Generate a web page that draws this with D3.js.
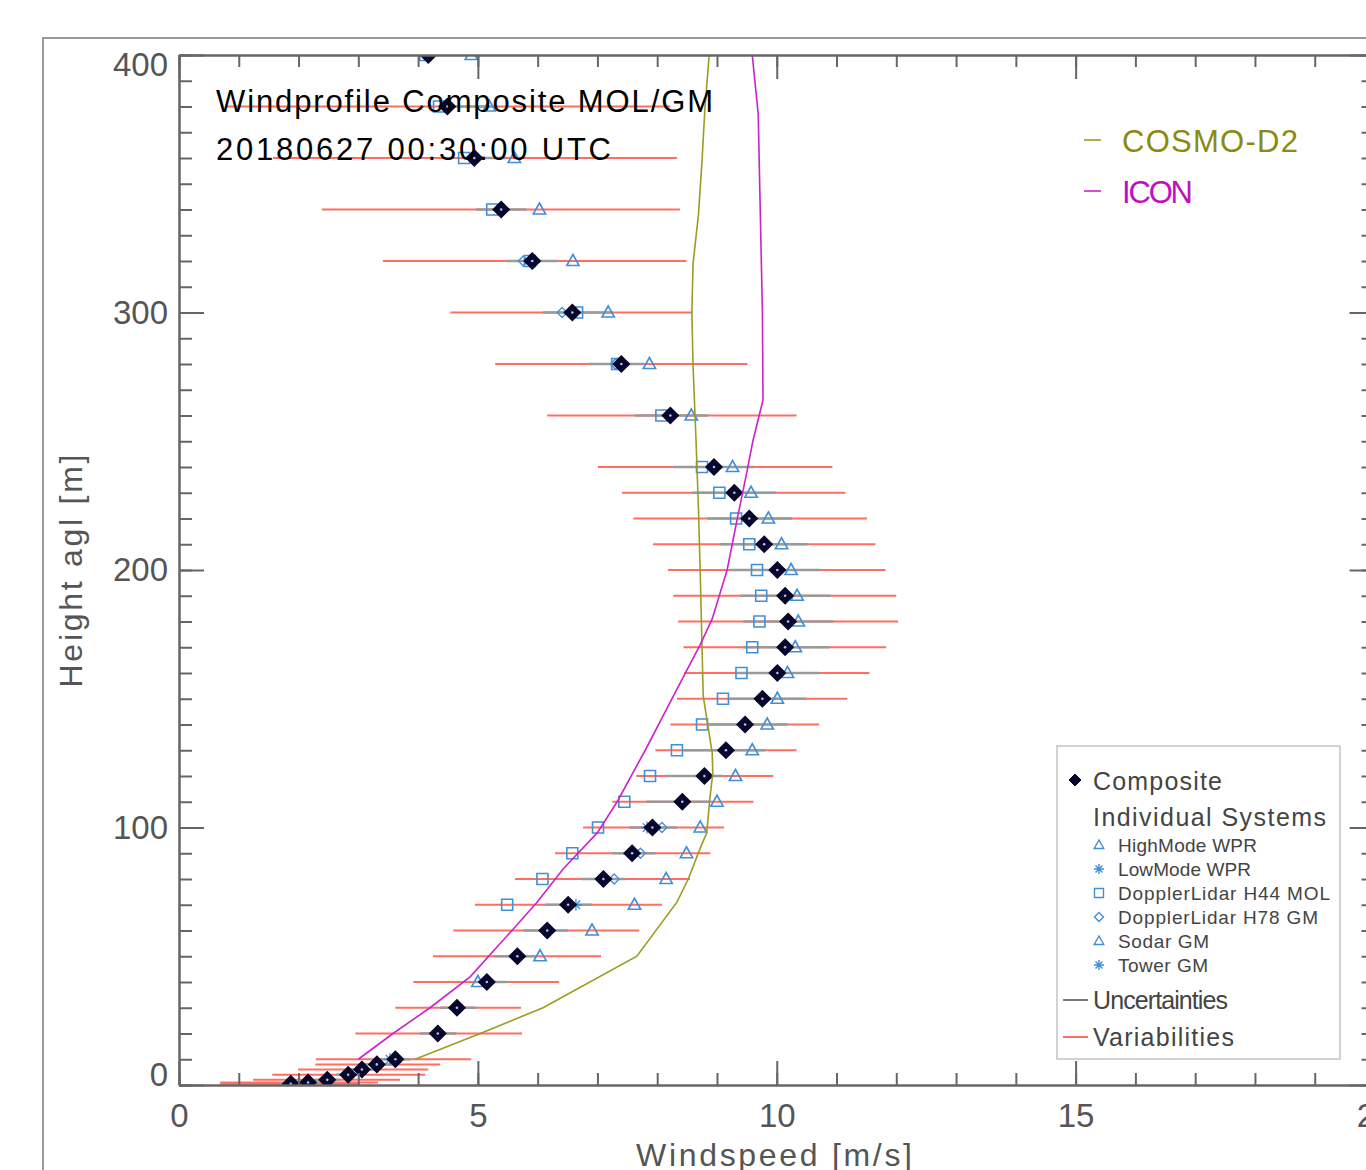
<!DOCTYPE html>
<html>
<head>
<meta charset="utf-8">
<script src="https://cdn.jsdelivr.net/npm/d3@7"></script>
<style>
  body { margin: 0; background: #fff; }
  text { font-family: "Liberation Sans", Arial, sans-serif; }
</style>
</head>
<body>
<div id="chart"></div>
<script>
// composite levels (m agl) and wind speeds (m/s)
var heights   = [400,380,360,340,320,300,280,260,240,230,220,210,200,190,180,170,160,150,140,130,120,110,100,90,80,70,60,50,40,30,20,10,8,6,4,2,1,0.5];
var composite = [4.17,4.49,4.94,5.39,5.91,6.58,7.40,8.22,8.95,9.29,9.54,9.79,10.01,10.14,10.19,10.14,10.01,9.76,9.47,9.15,8.79,8.42,7.92,7.58,7.10,6.51,6.16,5.66,5.15,4.65,4.33,3.62,3.31,3.06,2.83,2.48,2.16,1.87];
var uncLo = [null,4.33,4.77,4.97,5.47,6.09,6.86,7.63,8.27,8.59,8.84,9.05,9.22,9.39,9.44,9.44,9.34,9.22,8.84,8.44,8.13,7.82,7.53,7.25,6.73,6.13,5.76,5.26,4.92,4.37,4.03,3.36,3.11,2.86,2.63,2.28,1.96,1.69];
var uncHi = [null,5.24,5.47,5.81,6.34,7.26,7.77,8.85,9.62,9.99,10.26,10.51,10.73,10.90,10.95,10.88,10.71,10.49,10.18,9.81,9.09,8.89,8.33,7.97,7.46,6.91,6.51,5.96,5.49,4.97,4.64,3.87,3.56,3.28,3.03,2.69,2.36,2.06];
var varLo = [null,0.77,1.57,2.39,3.41,4.54,5.29,6.16,7.01,7.41,7.60,7.93,8.18,8.27,8.35,8.44,8.45,8.33,8.22,7.97,7.65,7.25,6.76,6.29,5.62,4.95,4.59,4.25,3.92,3.62,2.95,2.29,2.28,1.99,1.56,1.24,0.69,0.69];
var varHi = [null,8.22,8.33,8.38,8.49,8.59,9.51,10.33,10.93,11.15,11.51,11.65,11.82,12.00,12.03,11.83,11.55,11.18,10.71,10.33,9.94,9.61,9.12,8.89,8.55,8.08,7.70,7.06,6.36,5.72,5.74,4.89,4.37,4.17,4.12,3.70,3.33,3.03];

// individual systems
var lidarH44 = [4.12,4.35,4.77,5.24,5.87,6.66,7.33,8.07,8.75,9.04,9.32,9.54,9.67,9.74,9.71,9.59,9.41,9.10,8.75,8.33,7.88,7.45,7.01,6.58,6.08,5.49,null,null,null,null,null,null,null,null,null,null,null,null];
var lidarH78 = [null,null,null,null,5.76,6.41,7.30,null,null,null,null,null,null,null,null,null,null,null,null,null,null,null,8.08,7.72,7.28,null,null,null,null,null,null,null,null,null,null,null,null,null];
var wprHigh  = [4.89,5.19,5.61,6.03,6.59,7.18,7.87,8.57,9.26,9.57,9.86,10.08,10.24,10.34,10.36,10.31,10.18,10.01,9.84,9.59,9.31,9.00,8.72,8.49,8.15,7.62,null,null,null,null,null,null,null,null,null,null,null,null];
var sodar    = [null,null,null,null,null,null,null,null,null,null,null,null,null,null,null,null,null,null,null,null,null,null,null,null,null,null,6.91,6.04,5.00,null,null,null,null,null,null,null,null,null];
var tower    = [null,null,null,null,null,null,null,null,null,null,null,null,null,null,null,null,null,null,null,null,null,null,7.83,null,null,6.64,null,null,null,null,null,3.53,null,null,null,null,null,null];

// model profiles
var cosmoH = [10,20,30,50,71,80,92,98,111,121,129,151,170,199,224,250,279,300,319,338,359,380,400];
var cosmoV = [3.95,5.04,6.09,7.66,8.33,8.52,8.72,8.83,8.88,8.93,8.92,8.77,8.75,8.72,8.69,8.65,8.60,8.58,8.60,8.69,8.75,8.80,8.87];
var iconH  = [10,20,30,42,60,71,84,98,110,130,151,171,181,200,220,238,250,266,300,344,377,400];
var iconV  = [3.00,3.58,4.20,4.87,5.57,5.99,6.43,7.00,7.33,7.80,8.27,8.72,8.92,9.17,9.34,9.50,9.60,9.77,9.76,9.72,9.69,9.59];

var xMajor = [0,5,10,15,20];
var yMajor = [0,100,200,300,400];

var width = 1366, height = 1170;
var axisColor = "#666", labelColor = "#555";
var red = "#ff6e5e", grey = "#9a9a9a", blue = "#3f8fd9", navy = "#07072e";
var olive = "#9c9c22", magenta = "#cc22cc";

var svg = d3.select("#chart")
    .append("svg")
    .attr("width", width)
    .attr("height", height);

// outer frame
svg.append("rect")
    .attr("x", 43).attr("y", 38)
    .attr("width", 1400).attr("height", 1200)
    .attr("fill", "none")
    .attr("stroke", "#999")
    .attr("stroke-width", 2);

var x = d3.scaleLinear().domain([0, 20]).range([179, 1374.5]);
var y = d3.scaleLinear().domain([0, 400]).range([1085, 55]);

svg.append("clipPath").attr("id", "plotclip")
    .append("rect")
    .attr("x", 179).attr("y", 55)
    .attr("width", 1196).attr("height", 1030);

var plot = svg.append("g").attr("clip-path", "url(#plotclip)");

var rows = heights.map(function(h, i) {
    return {h: h, c: composite[i], uLo: uncLo[i], uHi: uncHi[i], vLo: varLo[i], vHi: varHi[i],
            h44: lidarH44[i], h78: lidarH78[i], wpr: wprHigh[i], sod: sodar[i], tow: tower[i]};
});

// variabilities
plot.selectAll("line.var")
    .data(rows.filter(function(d){ return d.vLo != null; }))
    .enter().append("line")
    .attr("class", "var")
    .attr("x1", function(d){ return x(d.vLo); })
    .attr("x2", function(d){ return x(d.vHi); })
    .attr("y1", function(d){ return y(d.h); })
    .attr("y2", function(d){ return y(d.h); })
    .attr("stroke", red)
    .attr("stroke-width", 2);

// uncertainties
plot.selectAll("line.unc")
    .data(rows.filter(function(d){ return d.uLo != null; }))
    .enter().append("line")
    .attr("class", "unc")
    .attr("x1", function(d){ return x(d.uLo); })
    .attr("x2", function(d){ return x(d.uHi); })
    .attr("y1", function(d){ return y(d.h); })
    .attr("y2", function(d){ return y(d.h); })
    .attr("stroke", grey)
    .attr("stroke-width", 2.5);

// symbol shapes
function triPath(r) { return "M0," + (-r) + "L" + (r*0.95) + "," + (r*0.7) + "L" + (-r*0.95) + "," + (r*0.7) + "Z"; }
function sqPath(r) { return "M" + (-r) + "," + (-r) + "H" + r + "V" + r + "H" + (-r) + "Z"; }
function dmPath(r) { return "M0," + (-r) + "L" + r + ",0L0," + r + "L" + (-r) + ",0Z"; }
function starPath(r) {
    var s = r * 0.7;
    return "M" + (-r) + ",0H" + r + "M0," + (-r) + "V" + r + "M" + (-s) + "," + (-s) + "L" + s + "," + s + "M" + (-s) + "," + s + "L" + s + "," + (-s);
}

function addSymbols(key, path, sw) {
    plot.selectAll("path.s_" + key)
        .data(rows.filter(function(d){ return d[key] != null; }))
        .enter().append("path")
        .attr("class", "s_" + key)
        .attr("d", path)
        .attr("transform", function(d){ return "translate(" + x(d[key]) + "," + y(d.h) + ")"; })
        .attr("fill", "none")
        .attr("stroke", blue)
        .attr("stroke-width", sw);
}
addSymbols("h44", sqPath(5.5), 1.6);
addSymbols("h78", dmPath(5), 1.3);
addSymbols("wpr", triPath(6.5), 1.6);
addSymbols("sod", triPath(6.5), 1.6);
addSymbols("tow", starPath(6), 1.3);

// composite
plot.selectAll("path.comp")
    .data(rows)
    .enter().append("path")
    .attr("class", "comp")
    .attr("d", dmPath(8))
    .attr("transform", function(d){ return "translate(" + x(d.c) + "," + y(d.h) + ")"; })
    .attr("fill", navy)
    .attr("stroke", navy)
    .attr("stroke-width", 1.5);
plot.selectAll("circle.compdot")
    .data(rows)
    .enter().append("circle")
    .attr("cx", function(d){ return x(d.c); })
    .attr("cy", function(d){ return y(d.h); })
    .attr("r", 1.3)
    .attr("fill", "#b8c0d8");

// models
var line = d3.line()
    .x(function(d){ return x(d[1]); })
    .y(function(d){ return y(d[0]); });
plot.append("path")
    .attr("d", line(d3.zip(cosmoH, cosmoV)))
    .attr("fill", "none").attr("stroke", olive).attr("stroke-width", 1.6);
plot.append("path")
    .attr("d", line(d3.zip(iconH, iconV)))
    .attr("fill", "none").attr("stroke", magenta).attr("stroke-width", 1.6);

// axes
function styleAxis(g) {
    g.selectAll(".domain").attr("stroke", axisColor).attr("stroke-width", 2);
    g.selectAll(".tick line").attr("stroke", axisColor).attr("stroke-width", 2);
    g.selectAll(".tick text").attr("fill", labelColor).style("font-size", "33px")
        .style("font-family", "'Liberation Sans', Arial, sans-serif");
}

var xMinor = d3.range(0, 21, 1), yMinor = d3.range(0, 401, 10);

svg.append("g").attr("transform", "translate(0,1085)")
    .call(d3.axisBottom(x).tickValues(xMinor).tickSize(-12).tickFormat("").tickSizeOuter(0)).call(styleAxis);
svg.append("g").attr("transform", "translate(0,1085)")
    .call(d3.axisBottom(x).tickValues(xMajor).tickSize(-24).tickPadding(19).tickSizeOuter(0)).call(styleAxis);
svg.append("g").attr("transform", "translate(0,55)")
    .call(d3.axisTop(x).tickValues(xMinor).tickSize(-12).tickFormat("").tickSizeOuter(0)).call(styleAxis);
svg.append("g").attr("transform", "translate(0,55)")
    .call(d3.axisTop(x).tickValues(xMajor).tickSize(-24).tickFormat("").tickSizeOuter(0)).call(styleAxis);

svg.append("g").attr("transform", "translate(179,0)")
    .call(d3.axisLeft(y).tickValues(yMinor).tickSize(-13).tickFormat("").tickSizeOuter(0)).call(styleAxis);
var yLab = svg.append("g").attr("transform", "translate(179,0)")
    .call(d3.axisLeft(y).tickValues(yMajor).tickSize(-25).tickPadding(11).tickSizeOuter(0)).call(styleAxis);
// end labels sit inside the frame, like the original
yLab.selectAll(".tick text")
    .attr("dy", function(d){ return d == 400 ? "0.62em" : (d == 0 ? "0.02em" : "0.32em"); });
svg.append("g").attr("transform", "translate(1374.5,0)")
    .call(d3.axisRight(y).tickValues(yMinor).tickSize(-13).tickFormat("").tickSizeOuter(0)).call(styleAxis);
svg.append("g").attr("transform", "translate(1374.5,0)")
    .call(d3.axisRight(y).tickValues(yMajor).tickSize(-25).tickFormat("").tickSizeOuter(0)).call(styleAxis);

// axis titles
svg.append("text")
    .text("Windspeed [m/s]")
    .attr("x", 774).attr("y", 1166)
    .attr("text-anchor", "middle")
    .attr("font-size", "32px")
    .attr("textLength", 276)
    .attr("fill", labelColor);
svg.append("text")
    .text("Height agl [m]")
    .attr("transform", "translate(82,571) rotate(-90)")
    .attr("text-anchor", "middle")
    .attr("font-size", "32px")
    .attr("textLength", 233)
    .attr("fill", labelColor);

// title
svg.append("text")
    .text("Windprofile Composite MOL/GM")
    .attr("x", 216).attr("y", 112)
    .attr("font-size", "31px")
    .attr("textLength", 497)
    .attr("fill", "#000");
svg.append("text")
    .text("20180627 00:30:00 UTC")
    .attr("x", 216).attr("y", 160)
    .attr("font-size", "31px")
    .attr("textLength", 395)
    .attr("fill", "#000");

// model legend
var models = [["COSMO-D2", olive, "#8a8a12", 152, 176], ["ICON", magenta, "#c010c0", 203, 71]];
models.forEach(function(m) {
    svg.append("line")
        .attr("x1", 1084).attr("x2", 1101)
        .attr("y1", m[3] - 12).attr("y2", m[3] - 12)
        .attr("stroke", m[1]).attr("stroke-width", 1.6);
    svg.append("text")
        .text(m[0])
        .attr("x", 1122).attr("y", m[3])
        .attr("font-size", "31px")
        .attr("textLength", m[4])
        .attr("fill", m[2]);
});

// systems legend
var lg = svg.append("g");
lg.append("rect")
    .attr("x", 1057).attr("y", 746)
    .attr("width", 283).attr("height", 313)
    .attr("fill", "#fff")
    .attr("stroke", "#c4c4c4")
    .attr("stroke-width", 1.5);
lg.append("path").attr("d", dmPath(6)).attr("transform", "translate(1075,780)")
    .attr("fill", navy).attr("stroke", navy);
lg.append("text").text("Composite").attr("x", 1093).attr("y", 790)
    .attr("font-size", "25px").attr("textLength", 129).attr("fill", "#444");
lg.append("text").text("Individual Systems").attr("x", 1093).attr("y", 826)
    .attr("font-size", "25px").attr("textLength", 233).attr("fill", "#444");

var sysNames = ["HighMode WPR", "LowMode WPR", "DopplerLidar H44 MOL", "DopplerLidar H78 GM", "Sodar GM", "Tower GM"];
var sysPaths = [triPath(5), starPath(5), sqPath(4.5), dmPath(4.5), triPath(5), starPath(5)];
var sysLen = [139, 133, 212, 200, 91, 90];
sysNames.forEach(function(n, i) {
    var cy = 845 + i * 24;
    lg.append("path").attr("d", sysPaths[i])
        .attr("transform", "translate(1099," + cy + ")")
        .attr("fill", "none").attr("stroke", blue).attr("stroke-width", 1.4);
    lg.append("text").text(n).attr("x", 1118).attr("y", cy + 7)
        .attr("font-size", "19px").attr("textLength", sysLen[i]).attr("fill", "#444");
});

lg.append("line").attr("x1", 1063).attr("x2", 1088).attr("y1", 1000).attr("y2", 1000)
    .attr("stroke", "#777").attr("stroke-width", 2);
lg.append("text").text("Uncertainties").attr("x", 1093).attr("y", 1009)
    .attr("font-size", "25px").attr("textLength", 135).attr("fill", "#444");
lg.append("line").attr("x1", 1063).attr("x2", 1088).attr("y1", 1037).attr("y2", 1037)
    .attr("stroke", red).attr("stroke-width", 2);
lg.append("text").text("Variabilities").attr("x", 1093).attr("y", 1046)
    .attr("font-size", "25px").attr("textLength", 141).attr("fill", "#444");
</script>
</body>
</html>
